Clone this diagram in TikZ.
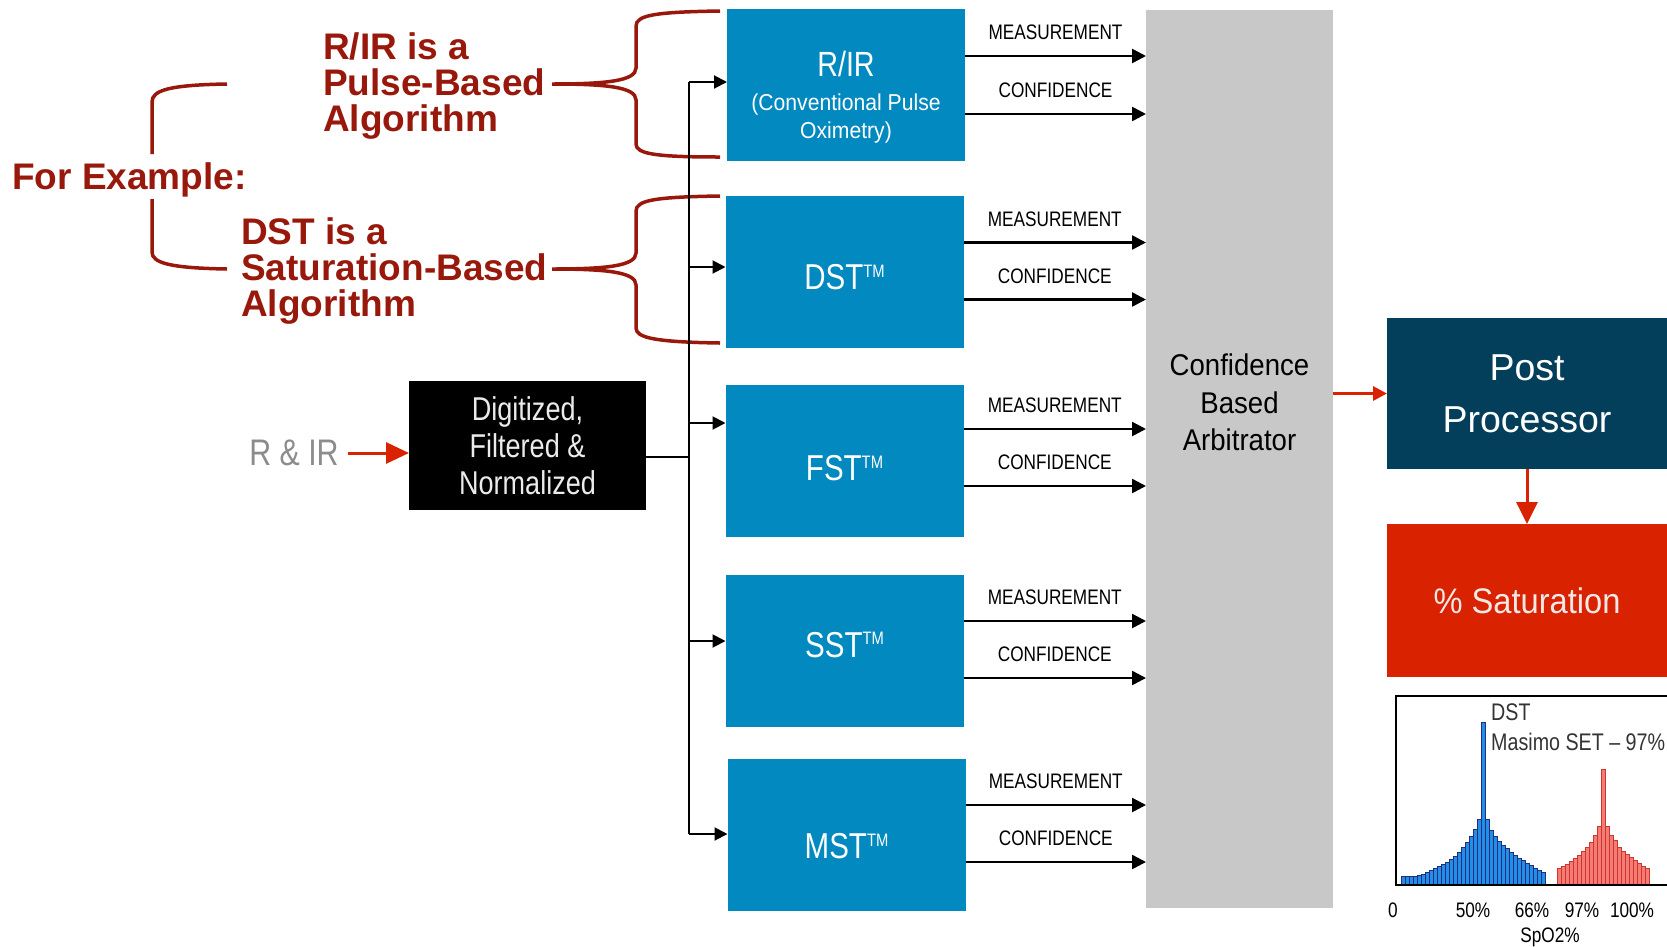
\documentclass[tikz,border=0pt]{standalone}
\usepackage{fontspec}
\setmainfont{Liberation Sans}
\newfontfamily\narrowfont{Liberation Sans}[FakeStretch=0.82]
\newfontfamily\midfont{Liberation Sans}[FakeStretch=0.92]
\usetikzlibrary{arrows.meta,calc,positioning}
\definecolor{boxblue}{RGB}{2,137,192}
\definecolor{arbgray}{RGB}{200,200,200}
\definecolor{postblue}{RGB}{3,62,90}
\definecolor{satred}{RGB}{217,34,0}
\definecolor{notered}{RGB}{152,24,12}
\definecolor{siggray}{RGB}{140,140,140}
\definecolor{barblue}{RGB}{33,143,232}
\definecolor{barnavy}{RGB}{35,45,125}
\definecolor{barpink}{RGB}{243,124,116}
\definecolor{barred}{RGB}{208,52,44}
\newcommand{\tmsign}{\raisebox{12.5pt}{\fontsize{18}{18}\selectfont TM}}
\newcommand{\algolabel}[2]{\raisebox{#1}[\height][0pt]{#2}}
\tikzset{
  algobox/.style={fill=boxblue, text=white, minimum width=238pt, minimum height=152pt,
    inner sep=0pt, outer sep=0pt, align=center, font=\narrowfont\fontsize{36}{40}\selectfont},
  boxtext/.style={text=white, inner sep=0pt, align=center, font=\midfont\fontsize{23}{28}\selectfont},
  digbox/.style={fill=black, text=black!8, minimum width=237pt, minimum height=129pt,
    inner sep=0pt, outer sep=0pt, align=center, font=\narrowfont\fontsize{33}{37}\selectfont},
  arbbox/.style={fill=arbgray, minimum width=187pt, minimum height=898pt, inner sep=0pt, outer sep=0pt},
  arbtext/.style={text=black, inner sep=0pt, align=center, font=\midfont\fontsize{30}{37.5}\selectfont},
  postbox/.style={fill=postblue, text=white, minimum width=280pt, minimum height=151pt,
    inner sep=0pt, outer sep=0pt, align=center, font=\fontsize{37.5}{52}\selectfont},
  satbox/.style={fill=satred, text={rgb,255:red,242;green,232;blue,230}, minimum width=280pt, minimum height=153pt,
    inner sep=0pt, outer sep=0pt, align=center, font=\midfont\fontsize{35.5}{40}\selectfont},
  sigtext/.style={text=siggray, inner sep=0pt, font=\narrowfont\fontsize{37}{40}\selectfont},
  notetext/.style={text=notered, inner sep=0pt, anchor=west, align=left, font=\bfseries\fontsize{37}{36}\selectfont},
  brace/.style={draw=notered, line width=3.5pt},
  busline/.style={line width=2pt},
  inarrow/.style={line width=2pt, -{Triangle[length=13pt,width=13pt]}},
  outarrow/.style={line width=2.5pt, -{Triangle[length=14pt,width=14pt]}},
  outlabel/.style={midway, above=15pt, inner sep=0pt, text=black, font=\narrowfont\fontsize{21}{21}\selectfont},
  sigarrow/.style={draw=satred, line width=3pt, -{Triangle[length=23pt,width=21pt]}},
  linkarrow/.style={draw=satred, line width=3pt, -{Triangle[length=14pt,width=14pt]}},
  downarrow/.style={draw=satred, line width=3pt, -{Triangle[length=22pt,width=21pt]}},
  bluebar/.style={fill=barblue, draw=barnavy, line width=0.6pt},
  redbar/.style={fill=barpink, draw=barred, line width=0.6pt},
  histframe/.style={line width=2.5pt},
  histlabel/.style={inner sep=0pt, font=\narrowfont\fontsize{21}{21}\selectfont},
  histnote/.style={anchor=west, inner sep=0pt, text=black!80, font=\narrowfont\fontsize{24}{24}\selectfont}
}
\begin{document}
\begin{tikzpicture}[x=1pt, y=-1pt]
\useasboundingbox (0,0) rectangle (1667,946);

\node[notetext] (pulsenote) at (323,86) {R/IR is a\\Pulse-Based\\Algorithm};
\node[notetext] (satnote) at (241,271) {DST is a\\Saturation-Based\\Algorithm};
\node[notetext] (example) at (12,180) {For Example:};

\draw[brace] (720,11) .. controls (656,12) and (636,15) .. (636,26) -- (636,68)
  .. controls (636,81) and (606,84) .. (552,84) .. controls (606,84) and (636,87) .. (636,100)
  -- (636,144) .. controls (636,154) and (656,157) .. (720,157);
\draw[brace] (720,196) .. controls (656,197) and (636,200) .. (636,211) -- (636,253)
  .. controls (636,266) and (606,269) .. (552,269) .. controls (606,269) and (636,272) .. (636,285)
  -- (636,328) .. controls (636,338) and (656,342) .. (720,343);
\draw[brace] (227,84) .. controls (170,85) and (152,90) .. (152,102) -- (152,154);
\draw[brace] (152,199) -- (152,252) .. controls (152,263) and (170,268) .. (227,269);

\node[algobox] (rir) at (846,85) {};
\node[boxtext] (rirtext) at (846,97) {\narrowfont\fontsize{35}{38}\selectfont R/IR\\[5.5pt](Conventional Pulse\\Oximetry)};
\node[algobox] (dst) at (844.5,271.5) {\algolabel{-5.5pt}{DST\tmsign}};
\node[algobox] (fst) at (844.5,461) {\algolabel{-7pt}{FST\tmsign}};
\node[algobox] (sst) at (844.5,651) {\algolabel{6.5pt}{SST\tmsign}};
\node[algobox] (mst) at (846.5,835) {\algolabel{-11pt}{MST\tmsign}};

\node[sigtext] (rirsig) at (294,453) {R \& IR};
\node[digbox] (dig) at (527.5,445.5) {Digitized,\\Filtered \&\\Normalized};
\node[arbbox] (arb) at (1239.5,459) {};
\node[arbtext] (arbtext) at (1239.5,402.5) {Confidence\\Based\\Arbitrator};
\node[postbox] (post) at (1527,393.5) {Post\\Processor};
\node[satbox] (sat) at (1527,600.5) {\% Saturation};

\coordinate (bus1) at (689,82);
\coordinate (bus2) at (689,267);
\coordinate (bus3) at (689,423);
\coordinate (busin) at (689,457);
\coordinate (bus4) at (689,641);
\coordinate (bus5) at (689,834);
\draw[busline] (bus1) -- (bus5);
\draw[busline] (dig.east |- busin) -- (busin);
\draw[inarrow] (bus1) -- (bus1 -| rir.west);
\draw[inarrow] (bus2) -- (bus2 -| dst.west);
\draw[inarrow] (bus3) -- (bus3 -| fst.west);
\draw[inarrow] (bus4) -- (bus4 -| sst.west);
\draw[inarrow] (bus5) -- (bus5 -| mst.west);

\draw[outarrow] ($(rir.east)+(0,-29)$) -- ($(rir.east -| arb.west)+(0,-29)$) node[outlabel] {MEASUREMENT};
\draw[outarrow] ($(rir.east)+(0,29)$) -- ($(rir.east -| arb.west)+(0,29)$) node[outlabel] {CONFIDENCE};
\draw[outarrow] ($(dst.east)+(0,-29)$) -- ($(dst.east -| arb.west)+(0,-29)$) node[outlabel] {MEASUREMENT};
\draw[outarrow] ($(dst.east)+(0,28)$) -- ($(dst.east -| arb.west)+(0,28)$) node[outlabel] {CONFIDENCE};
\draw[outarrow] ($(fst.east)+(0,-32)$) -- ($(fst.east -| arb.west)+(0,-32)$) node[outlabel] {MEASUREMENT};
\draw[outarrow] ($(fst.east)+(0,25)$) -- ($(fst.east -| arb.west)+(0,25)$) node[outlabel] {CONFIDENCE};
\draw[outarrow] ($(sst.east)+(0,-30)$) -- ($(sst.east -| arb.west)+(0,-30)$) node[outlabel] {MEASUREMENT};
\draw[outarrow] ($(sst.east)+(0,27)$) -- ($(sst.east -| arb.west)+(0,27)$) node[outlabel] {CONFIDENCE};
\draw[outarrow] ($(mst.east)+(0,-30)$) -- ($(mst.east -| arb.west)+(0,-30)$) node[outlabel] {MEASUREMENT};
\draw[outarrow] ($(mst.east)+(0,27)$) -- ($(mst.east -| arb.west)+(0,27)$) node[outlabel] {CONFIDENCE};

\draw[sigarrow, shorten <=9pt] (rirsig.east) -- (rirsig.east -| dig.west);
\draw[linkarrow] (arb.east |- post.west) -- (post.west);
\draw[downarrow] (post.south) -- (sat.north);

\foreach \h [count=\i from 0] in {9,9,9,9,10,11,13,15,17,19,21,23,26,29,33,38,43,49,56,66,163,66,55,49,44,40,37,33,30,27,25,22,20,17,15,13}
  \draw[bluebar] (1401+4*\i,885) rectangle ++(4,-\h);
\foreach \h [count=\i from 0] in {17,19,21,24,27,30,34,38,43,50,59,116,59,50,45,38,34,31,28,25,22,19,17}
  \draw[redbar] (1557+4*\i,885) rectangle ++(4,-\h);
\draw[histframe] (1667,696) -- (1396,696) -- (1396,885) -- (1667,885);

\node[histnote] (dstnote) at (1491,712) {DST};
\node[histnote] (setnote) at (1491,742) {Masimo SET – 97\%};
\node[histlabel] (ax0) at (1393,910) {0};
\node[histlabel] (ax50) at (1473,910) {50\%};
\node[histlabel] (ax66) at (1532,910) {66\%};
\node[histlabel] (ax97) at (1582,910) {97\%};
\node[histlabel] (ax100) at (1632,910) {100\%};
\node[histlabel] (axname) at (1550,937) {SpO2\%};
\end{tikzpicture}
\end{document}
